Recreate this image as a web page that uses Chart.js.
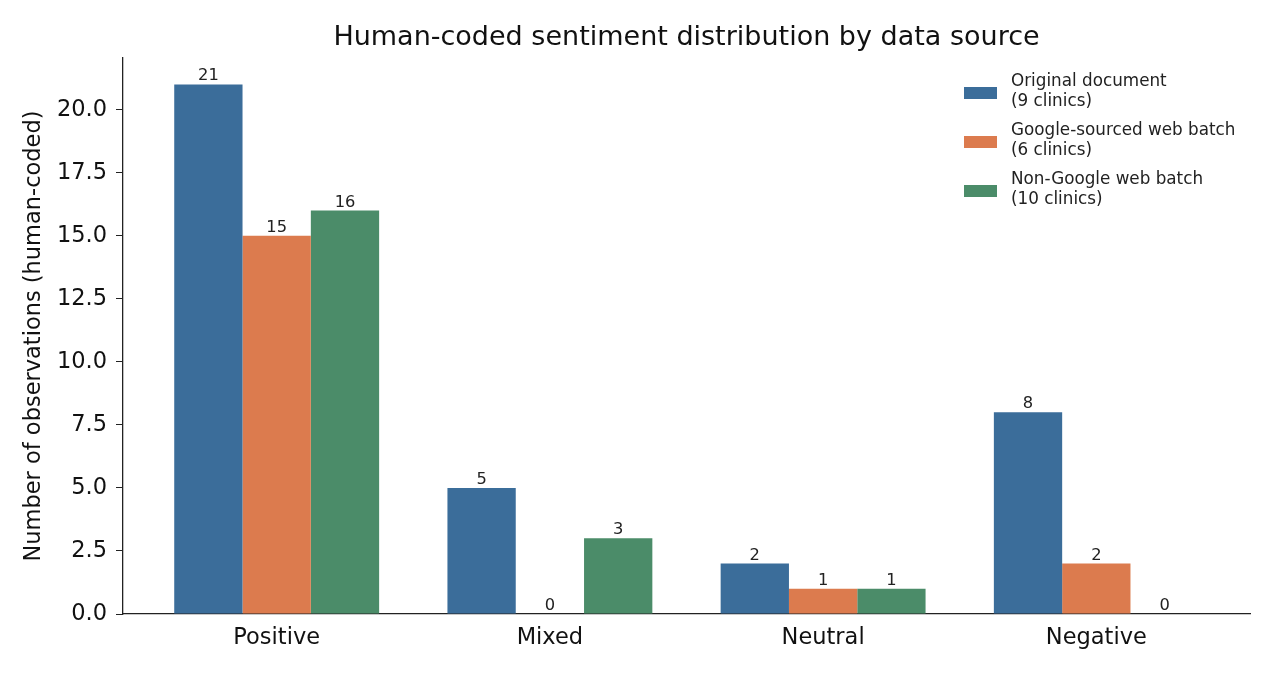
<!DOCTYPE html>
<html><head><meta charset="utf-8">
<script src="https://cdn.jsdelivr.net/npm/chart.js@4/dist/chart.umd.min.js"></script>
<style>html,body{margin:0;padding:0;background:#fff;}#wrap{width:1275px;height:675px;}</style>
</head><body><div id="wrap"><canvas id="c" width="1275" height="675"></canvas></div>
<script>
const categories = ["Positive", "Mixed", "Neutral", "Negative"];
const seriesNames = ["Original document\n(9 clinics)", "Google-sourced web batch\n(6 clinics)", "Non-Google web batch\n(10 clinics)"];
const originalDoc = [21, 5, 2, 8];
const googleBatch = [15, 0, 1, 2];
const nonGoogleBatch = [16, 3, 1, 0];
const yTicks = [0, 2.5, 5, 7.5, 10, 12.5, 15, 17.5, 20];
const colors = ["#3b6d9a", "#dc7b4e", "#4b8c69"];
const FONT = "'DejaVu Sans', sans-serif";

const seriesValues = [originalDoc, googleBatch, nonGoogleBatch];
const datasets = seriesValues.map((vals, i) => ({
  label: seriesNames[i],
  data: vals.map((v, j) => ({x: j, y: v})),
  backgroundColor: colors[i],
  borderWidth: 0,
  barPercentage: 1.0,
  categoryPercentage: 0.75
}));

const decor = {
  id: 'decor',
  afterDatasetsDraw(chart) {
    const ctx = chart.ctx;
    ctx.save();
    ctx.fillStyle = '#222';
    ctx.font = "16.3px " + FONT;
    ctx.textAlign = 'center';
    ctx.textBaseline = 'alphabetic';
    chart.data.datasets.forEach((ds, i) => {
      const meta = chart.getDatasetMeta(i);
      meta.data.forEach((bar, j) => {
        ctx.fillText(String(ds.data[j].y), bar.x, bar.y - 4);
      });
    });
    // title
    ctx.fillStyle = '#111';
    ctx.font = "27px " + FONT;
    ctx.textBaseline = 'middle';
    const ca = chart.chartArea;
    ctx.fillText("Human-coded sentiment distribution by data source", (ca.left + ca.right) / 2, 38);
    // legend
    ctx.textAlign = 'left';
    ctx.font = "16.8px " + FONT;
    const rowY = [93, 142, 191];
    chart.data.datasets.forEach((ds, i) => {
      ctx.fillStyle = ds.backgroundColor;
      ctx.fillRect(964, rowY[i] - 6, 33, 12);
      ctx.fillStyle = '#222';
      const lines = ds.label.split('\n');
      lines.forEach((ln, k) => ctx.fillText(ln, 1011, rowY[i] - 11 + k * 20));
    });
    ctx.restore();
  }
};

new Chart(document.getElementById('c'), {
  type: 'bar',
  data: { datasets },
  plugins: [decor],
  options: {
    responsive: false,
    animation: false,
    devicePixelRatio: 1,
    layout: { padding: { top: 58, right: 25, left: 0, bottom: 0 } },
    plugins: { legend: { display: false }, tooltip: { enabled: false }, title: { display: false } },
    scales: {
      x: {
        type: 'linear',
        min: -0.5625, max: 3.5625,
        offset: false,
        afterBuildTicks(s) { s.ticks = categories.map((c, i) => ({value: i})); },
        afterFit(s) { s.height = 61; },
        ticks: { callback: (v) => categories[v], color: '#111', font: { family: FONT, size: 22.5 }, padding: 4, maxRotation: 0, autoSkip: false },
        grid: { display: false, drawOnChartArea: false, drawTicks: true, tickLength: 7, tickColor: '#222' },
        border: { display: true, color: '#222', width: 1.3 }
      },
      y: {
        min: 0, max: 22.05,
        afterBuildTicks(s) { s.ticks = yTicks.map(v => ({value: v})); },
        afterFit(s) { s.width = 123; },
        ticks: { callback: (v) => v.toFixed(1), color: '#111', font: { family: FONT, size: 22.5 }, padding: 9 },
        grid: { drawOnChartArea: false, drawTicks: true, tickLength: 7, tickColor: '#222' },
        border: { display: true, color: '#222', width: 1.3 },
        title: { display: true, text: 'Number of observations (human-coded)', color: '#111', font: { family: FONT, size: 22.5 }, padding: { top: 21, bottom: 0 } }
      }
    }
  }
});
</script></body></html>
